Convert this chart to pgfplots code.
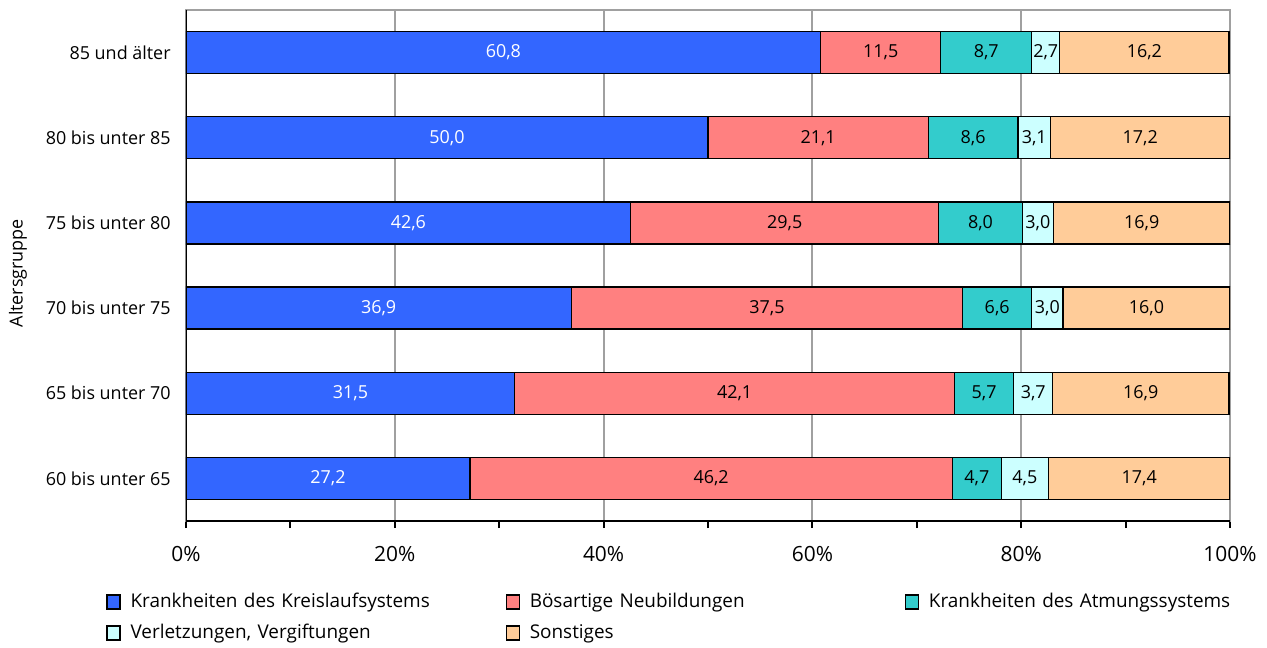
\documentclass[border=0pt]{standalone}
\usepackage{fontspec}
\setmainfont{Open Sans}
\usepackage{pgfplots}
\pgfplotsset{compat=1.18}
\definecolor{cKreis}{HTML}{3366FF}
\definecolor{cNeu}{HTML}{FF8080}
\definecolor{cAtm}{HTML}{33CCCC}
\definecolor{cVer}{HTML}{CCFFFF}
\definecolor{cSon}{HTML}{FFCC99}
\definecolor{cGrid}{HTML}{A0A0A0}
\begin{document}
\fontsize{9pt}{11pt}\selectfont
\begin{tikzpicture}
\useasboundingbox (-93bp,-63.5bp) rectangle (540.5bp,260.5bp);
\begin{axis}[
  scale only axis, width=522bp, height=255.5bp,
  xbar stacked, bar width=21bp,
  xmin=0, xmax=100, ymin=-0.5, ymax=5.5,
  /pgf/number format/assume math mode=true,
  xtick={0,20,...,100}, minor xtick={10,30,...,90},
  xticklabel={\pgfmathprintnumber{\tick}\%},
  xticklabel style={font=\fontsize{10.5pt}{12pt}\selectfont, yshift=-6bp},
  ytick={0,...,5},
  yticklabels={60 bis unter 65,65 bis unter 70,70 bis unter 75,75 bis unter 80,80 bis unter 85,85 und älter},
  yticklabel style={font=\fontsize{9pt}{11pt}\selectfont, xshift=-1bp},
  ytick style={draw=none},
  xtick pos=left, tick align=outside,
  major tick length=3.5bp, minor tick length=3.5bp,
  tick style={black, line width=1bp},
  xmajorgrids, major grid style={cGrid, line width=1bp},
  axis line style={cGrid, line width=1bp},
  ylabel={Altersgruppe},
  ylabel style={at={(axis description cs:-0.161,0.485)}, anchor=center, font=\fontsize{9pt}{11pt}\selectfont},
  every axis plot/.append style={draw=black, line width=0.6bp},
  visualization depends on={rawx \as \rawx},
  nodes near coords={\pgfmathprintnumber[use comma,fixed,fixed zerofill,precision=1,assume math mode=true]{\rawx}},
  every node near coord/.append style={anchor=center, font=\fontsize{9pt}{11pt}\selectfont, inner sep=0pt},
  legend columns=3,
  legend style={draw=none, fill=none, at={(axis description cs:-0.0766,-0.133)}, anchor=north west, inner sep=0pt,
     row sep=3bp, column sep=0pt,
     font=\fontsize{9.5pt}{11pt}\selectfont,
     /tikz/every even column/.append style={text width=185.5bp}},
  legend cell align=left,
  legend image code/.code={\draw[#1, line width=0.6bp] (0bp,-3.5bp) rectangle (6.5bp,3.5bp); \path (9.5bp,0bp);},
]
\addplot[fill=cKreis, every node near coord/.append style={text=white}] coordinates {(27.2,0) (31.5,1) (36.9,2) (42.6,3) (50.0,4) (60.8,5)};
\addplot[fill=cNeu] coordinates {(46.2,0) (42.1,1) (37.5,2) (29.5,3) (21.1,4) (11.5,5)};
\addplot[fill=cAtm] coordinates {(4.7,0) (5.7,1) (6.6,2) (8.0,3) (8.6,4) (8.7,5)};
\addplot[fill=cVer] coordinates {(4.5,0) (3.7,1) (3.0,2) (3.0,3) (3.1,4) (2.7,5)};
\addplot[fill=cSon] coordinates {(17.4,0) (16.9,1) (16.0,2) (16.9,3) (17.2,4) (16.2,5)};
\legend{Krankheiten des Kreislaufsystems, Bösartige Neubildungen, Krankheiten des Atmungssystems, Verletzungen{,} Vergiftungen, Sonstiges}
\draw[black, line width=1.2bp] (rel axis cs:0,1) -- (rel axis cs:0,0) -- (rel axis cs:1,0);
\end{axis}
\end{tikzpicture}
\end{document}
